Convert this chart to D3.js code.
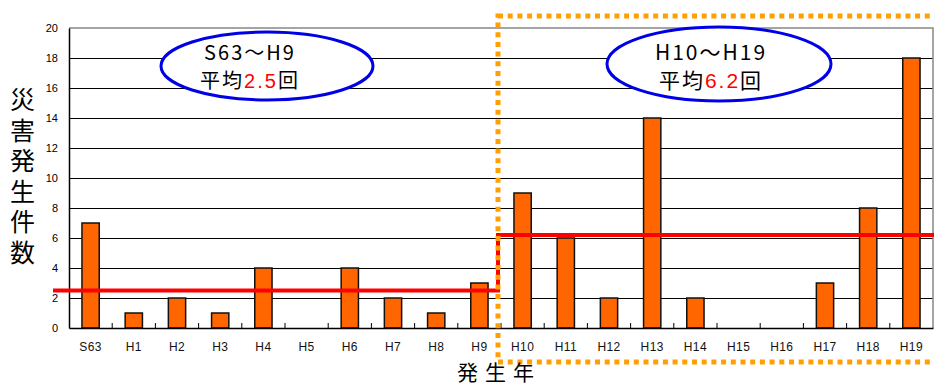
<!DOCTYPE html>
<html>
<head>
<meta charset="utf-8">
<script src="https://cdn.jsdelivr.net/npm/d3@7"></script>
<style>
  html, body { margin: 0; padding: 0; background: #fff; }
  svg { display: block; }
</style>
</head>
<body>
<svg id="chart" width="934" height="387"></svg>
<script>
// Disaster counts per year (Showa 63 to Heisei 19)
const years = ["S63", "H1", "H2", "H3", "H4", "H5", "H6", "H7", "H8", "H9",
               "H10", "H11", "H12", "H13", "H14", "H15", "H16", "H17", "H18", "H19"];
const counts = [7, 1, 2, 1, 4, 0, 4, 2, 1, 3,
                9, 6, 2, 14, 2, 0, 0, 3, 8, 18];
const yTicks = [0, 2, 4, 6, 8, 10, 12, 14, 16, 18, 20];
const periods = [
  { range: "S63～H9", from: "S63", to: "H9" },
  { range: "H10～H19", from: "H10", to: "H19" }
];
const yTitle = "災害発生件数";
const xTitle = "発生年";

const svg = d3.select("#chart");
const plot = { left: 69, top: 28, right: 933, bottom: 328 };

const x = d3.scaleBand().domain(years).range([plot.left, plot.right]).paddingInner(0);
const y = d3.scaleLinear().domain([0, 20]).range([plot.bottom, plot.top]);

// Period averages
periods.forEach(p => {
  const i0 = years.indexOf(p.from), i1 = years.indexOf(p.to);
  p.mean = d3.mean(counts.slice(i0, i1 + 1));
});

// Gridlines
svg.append("g")
  .selectAll("line")
  .data(yTicks.filter(v => v > 0 && v < 20))
  .join("line")
  .attr("x1", plot.left).attr("x2", plot.right)
  .attr("y1", d => y(d)).attr("y2", d => y(d))
  .attr("stroke", "#000").attr("stroke-width", 1)
  .attr("shape-rendering", "crispEdges");

// Plot frame: top and right in grey
svg.append("path")
  .attr("d", `M${plot.left},${y(20)}H${plot.right}V${plot.bottom}`)
  .attr("fill", "none").attr("stroke", "#888").attr("stroke-width", 1.5);

// Bars
const barW = x.bandwidth() * 0.4;
svg.append("g")
  .selectAll("rect")
  .data(years.map((yr, i) => ({ yr, v: counts[i] })).filter(d => d.v > 0))
  .join("rect")
  .attr("x", d => x(d.yr) + (x.bandwidth() - barW) / 2)
  .attr("y", d => y(d.v))
  .attr("width", barW)
  .attr("height", d => y(0) - y(d.v))
  .attr("fill", "#ff6600")
  .attr("stroke", "#111").attr("stroke-width", 1.5);

// Y axis
const yAxis = svg.append("g")
  .attr("transform", `translate(${plot.left},0)`)
  .call(d3.axisLeft(y).tickValues(yTicks).tickSize(0).tickPadding(11));
yAxis.select(".domain").attr("stroke", "#000").attr("stroke-width", 1.5);
yAxis.selectAll("text")
  .attr("font-family", "'Liberation Sans', Arial, sans-serif")
  .attr("font-size", 11).attr("fill", "#000");

// X axis with short inward ticks at category boundaries
const xAxis = svg.append("g")
  .attr("transform", `translate(0,${plot.bottom})`)
  .call(d3.axisBottom(x).tickSize(0).tickPadding(14));
xAxis.select(".domain").attr("stroke", "#000").attr("stroke-width", 1.5);
xAxis.selectAll("text")
  .attr("font-family", "'Liberation Sans', Arial, sans-serif")
  .attr("font-size", 12).attr("letter-spacing", "0.4px").attr("fill", "#111");
svg.append("g")
  .selectAll("line")
  .data(years.slice(1))
  .join("line")
  .attr("x1", d => x(d)).attr("x2", d => x(d))
  .attr("y1", plot.bottom).attr("y2", plot.bottom - 5)
  .attr("stroke", "#000").attr("stroke-width", 1);

// Average step line
const splitX = 498;
const line = d3.line().x(d => d[0]).y(d => y(d[1]));
svg.append("path")
  .attr("d", line([[53, periods[0].mean], [splitX, periods[0].mean],
                   [splitX, periods[1].mean], [936, periods[1].mean]]))
  .attr("fill", "none").attr("stroke", "#ff0000").attr("stroke-width", 4);

// Dotted frame around the recent period
svg.append("rect")
  .attr("x", splitX).attr("y", 16)
  .attr("width", 460).attr("height", 346)
  .attr("fill", "none").attr("stroke", "#ffa000")
  .attr("stroke-width", 5).attr("stroke-dasharray", "5 4.7");

// Callout ellipses with averages
const callouts = [
  { cx: 267, cy: 66, rx: 106, ry: 34, tx: 250, size: 20 },
  { cx: 719, cy: 64, rx: 112, ry: 37, tx: 711, size: 21 }
];
callouts.forEach((c, i) => {
  const p = periods[i];
  svg.append("ellipse")
    .attr("cx", c.cx).attr("cy", c.cy).attr("rx", c.rx).attr("ry", c.ry)
    .attr("fill", "#fff").attr("stroke", "#0000e6").attr("stroke-width", 3);
  const t = svg.append("text")
    .attr("text-anchor", "middle")
    .attr("font-family", "'Noto Sans CJK JP', sans-serif")
    .attr("font-size", c.size).attr("letter-spacing", "2px").attr("fill", "#000");
  t.append("tspan").attr("x", c.tx).attr("y", 60).text(p.range);
  const l2 = t.append("tspan").attr("x", c.tx).attr("y", 88);
  l2.append("tspan").text("平均");
  l2.append("tspan").attr("fill", "#ff0000")
    .attr("font-family", "'Liberation Sans', Arial, sans-serif")
    .text(d3.format(".1f")(p.mean));
  l2.append("tspan").text("回");
});

// Axis titles
svg.append("text")
  .attr("x", 22.5).attr("y", 87)
  .attr("writing-mode", "vertical-rl")
  .style("text-orientation", "upright")
  .attr("font-family", "'Noto Sans CJK JP', sans-serif")
  .attr("font-size", 25).attr("letter-spacing", "5.6px").attr("fill", "#000")
  .text(yTitle);

svg.append("text")
  .attr("x", 499).attr("y", 380)
  .attr("text-anchor", "middle")
  .attr("font-family", "'Noto Sans CJK JP', sans-serif")
  .attr("font-size", 21).attr("letter-spacing", "7px").attr("fill", "#000")
  .text(xTitle);
</script>
</body>
</html>
